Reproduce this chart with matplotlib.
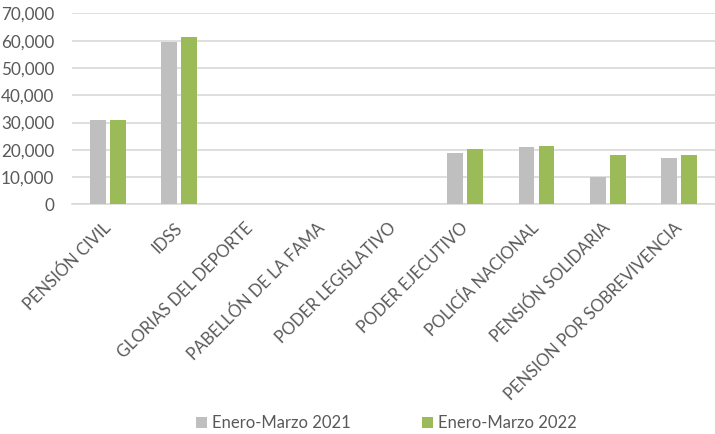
import matplotlib.pyplot as plt
import numpy as np

# Data
categorias = ["PENSIÓN CIVIL", "IDSS", "GLORIAS DEL DEPORTE", "PABELLÓN DE LA FAMA",
              "PODER LEGISLATIVO", "PODER EJECUTIVO", "POLICÍA NACIONAL",
              "PENSIÓN SOLIDARIA", "PENSION POR SOBREVIVENCIA"]
ene_mar_2021 = [30900, 59400, 0, 0, 0, 18800, 21000, 10000, 17000]
ene_mar_2022 = [31000, 61300, 0, 0, 0, 20300, 21400, 18100, 18100]
y_ticks = [0, 10000, 20000, 30000, 40000, 50000, 60000, 70000]

plt.rcParams['font.family'] = ['Lato', 'DejaVu Sans']
text_color = '#595959'

fig = plt.figure(figsize=(7.15, 4.34), dpi=100)
ax = fig.add_axes([0.101, 0.529, 0.899, 0.440])

x = np.arange(len(categorias))
w = 0.22
ax.bar(x - 0.14, ene_mar_2021, w, color='#BFBFBF', label='Enero-Marzo 2021', zorder=3)
ax.bar(x + 0.14, ene_mar_2022, w, color='#9BBB59', label='Enero-Marzo 2022', zorder=3)

ax.set_xlim(-0.5, len(categorias) - 0.5)
ax.set_ylim(0, 70000)
ax.set_yticks(y_ticks)
ax.set_yticklabels([f"{v:,}" for v in y_ticks])
ax.yaxis.grid(True, color='#D9D9D9', linewidth=1.2, zorder=0)
ax.tick_params(axis='y', length=0, pad=13, labelsize=12.3, labelcolor=text_color)

ax.set_xticks(x)
ax.set_xticklabels(categorias, rotation=45, ha='right', va='center',
                   rotation_mode='anchor', fontsize=12, color=text_color)
ax.tick_params(axis='x', length=0, pad=15)

for s in ['top', 'right', 'left']:
    ax.spines[s].set_visible(False)
ax.spines['bottom'].set_color('#D9D9D9')
ax.spines['bottom'].set_linewidth(1.2)

fig.legend(loc='center', bbox_to_anchor=(0.54, 0.025), ncol=2, frameon=False,
           fontsize=12, labelcolor=text_color, handlelength=0.65, handleheight=0.65,
           handletextpad=0.3, columnspacing=4.3)

plt.savefig("out.png", dpi=100)
